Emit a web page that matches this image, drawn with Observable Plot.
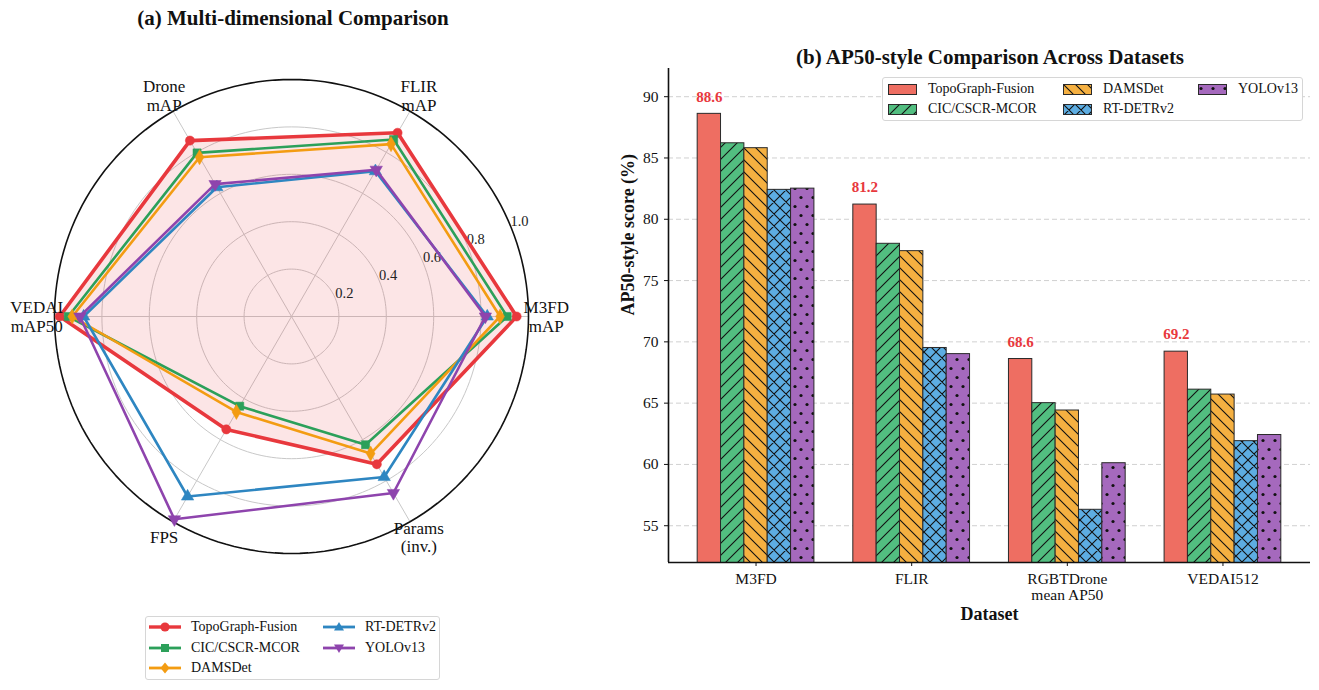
<!DOCTYPE html>
<html>
<head>
<meta charset="utf-8">
<script src="https://cdn.jsdelivr.net/npm/d3@7"></script>
<script src="https://cdn.jsdelivr.net/npm/@observablehq/plot@0.6"></script>
<style>
  body { margin: 0; background: #fff; }
  #page { position: relative; width: 1319px; height: 690px; background: #fff; font-family: "Liberation Serif", "Times New Roman", serif; color: #111; overflow: hidden; }
  .title { position: absolute; font-weight: bold; font-size: 21px; white-space: nowrap; transform: translate(-50%, -50%); }
  .legend { position: absolute; background: #fff; border: 1px solid #d6d6d6; border-radius: 3px; box-sizing: border-box; font-size: 14px; }
  .legend .item { position: absolute; display: flex; align-items: center; white-space: nowrap; }
  .legend svg { display: block; }
  #radar, #bars { position: absolute; }
</style>
</head>
<body>
<svg width="0" height="0" style="position:absolute">
  <defs>
    <pattern id="hatch1" patternUnits="userSpaceOnUse" width="12" height="12">
      <rect width="12" height="12" fill="#52BE80"/>
      <path d="M0,12L12,0M-3,3L3,-3M9,15L15,9" stroke="#111" stroke-width="1.1"/>
    </pattern>
    <pattern id="hatch2" patternUnits="userSpaceOnUse" width="12" height="12">
      <rect width="12" height="12" fill="#F5B041"/>
      <path d="M0,0L12,12M-3,9L3,15M9,-3L15,3" stroke="#111" stroke-width="1.1"/>
    </pattern>
    <pattern id="hatch3" patternUnits="userSpaceOnUse" width="12" height="12">
      <rect width="12" height="12" fill="#5DADE2"/>
      <path d="M0,12L12,0M-3,3L3,-3M9,15L15,9M0,0L12,12M-3,9L3,15M9,-3L15,3" stroke="#111" stroke-width="1.1"/>
    </pattern>
    <pattern id="hatch4" patternUnits="userSpaceOnUse" width="12" height="18">
      <rect width="12" height="18" fill="#A569BD"/>
      <circle cx="3" cy="4.5" r="1.6" fill="#111"/>
      <circle cx="9" cy="13.5" r="1.6" fill="#111"/>
    </pattern>
  </defs>
</svg>
<div id="page">
  <div class="title" style="left:293px; top:18px;">(a) Multi-dimensional Comparison</div>
  <div class="title" style="left:990px; top:57px;">(b) AP50-style Comparison Across Datasets</div>
  <div id="radar" style="left:0px; top:0px;"></div>
  <div id="bars" style="left:600px; top:40px;"></div>
  <div class="legend" id="legA" style="left:145px; top:616px; width:295px; height:64px;"></div>
  <div class="legend" id="legB" style="left:882px; top:77px; width:421px; height:44px;"></div>
</div>
<script>
// ---------------- data ----------------
const models = ["TopoGraph-Fusion", "CIC/CSCR-MCOR", "DAMSDet", "RT-DETRv2", "YOLOv13"];

// radar (normalized scores)
const radarAxes = ["M3FD\nmAP", "FLIR\nmAP", "Drone\nmAP", "VEDAI\nmAP50", "FPS", "Params\n(inv.)"];
const radarTopo  = [0.950, 0.895, 0.857, 0.978, 0.550, 0.720];
const radarCic   = [0.910, 0.862, 0.797, 0.942, 0.437, 0.625];
const radarDams  = [0.880, 0.840, 0.776, 0.925, 0.465, 0.668];
const radarRtdetr = [0.826, 0.708, 0.630, 0.877, 0.877, 0.782];
const radarYolo  = [0.818, 0.715, 0.645, 0.893, 0.988, 0.860];
const radarTicks = [0.2, 0.4, 0.6, 0.8, 1.0];

// bars (AP50-style %)
const datasets = ["M3FD", "FLIR", "RGBTDrone\nmean AP50", "VEDAI512"];
const apTopo   = [88.6, 81.2, 68.6, 69.2];
const apCic    = [86.2, 78.0, 65.0, 66.1];
const apDams   = [85.8, 77.4, 64.4, 65.7];
const apRtdetr = [82.4, 69.5, 56.3, 61.9];
const apYolo   = [82.5, 69.0, 60.1, 62.4];
const yTicks = [55, 60, 65, 70, 75, 80, 85, 90];

// ---------------- styles ----------------
const lineColors = ["#e8383d", "#2ca05a", "#f39c12", "#2e86c1", "#8e44ad"];
const barFills = ["#EE6E62", "url(#hatch1)", "url(#hatch2)", "url(#hatch3)", "url(#hatch4)"];
const symbols = ["circle", "square", "diamond", "triangle", "triangle"];
const rotations = [0, 0, 0, 0, 180];
const font = '"Liberation Serif", "Times New Roman", serif';

// ---------------- radar ----------------
const radarSeries = [radarTopo, radarCic, radarDams, radarRtdetr, radarYolo];
const W = 600, H = 600, R = 237, cx = 291, cy = 316;
const angle = i => (i * 2 * Math.PI) / radarAxes.length;
const pts = radarSeries.map((vals, s) =>
  vals.map((v, i) => ({s, i, v, x: v * Math.cos(angle(i)), y: v * Math.sin(angle(i))}))
);
const circleData = radarTicks.flatMap(t =>
  d3.range(0, 361, 2).map(a => ({t, x: t * Math.cos(a * Math.PI / 180), y: t * Math.sin(a * Math.PI / 180)}))
);
const spokes = radarAxes.map((name, i) => ({x: Math.cos(angle(i)), y: Math.sin(angle(i))}));
const labelR = 1.075;
const rlabAng = 22.5 * Math.PI / 180;

const radarMarks = [
  Plot.line(circleData.filter(d => d.t < 1), {x: "x", y: "y", z: "t", stroke: "#c8c8c8", strokeWidth: 1}),
  Plot.link(spokes, {x1: 0, y1: 0, x2: "x", y2: "y", stroke: "#c8c8c8", strokeWidth: 1}),
  Plot.line(pts[0], {x: "x", y: "y", curve: "linear-closed", fill: lineColors[0], fillOpacity: 0.13, stroke: "none"}),
  Plot.text(radarTicks, {x: t => t * Math.cos(rlabAng), y: t => t * Math.sin(rlabAng), text: t => t.toFixed(1),
    textAnchor: "start", lineAnchor: "bottom", dx: 0, fontSize: 14.5, fill: "#222"}),
  Plot.line(circleData.filter(d => d.t === 1), {x: "x", y: "y", stroke: "#111", strokeWidth: 1.6}),
];
pts.forEach((p, s) => {
  radarMarks.push(Plot.line(p, {x: "x", y: "y", curve: "linear-closed", stroke: lineColors[s], strokeWidth: s === 0 ? 3.6 : 2.6}));
  radarMarks.push(Plot.dot(p, {x: "x", y: "y", symbol: symbols[s], rotate: rotations[s], r: 4.6, fill: lineColors[s], stroke: lineColors[s], strokeWidth: 0.5}));
});
radarMarks.push(Plot.text(radarAxes, {
  x: (d, i) => labelR * Math.cos(angle(i)), y: (d, i) => labelR * Math.sin(angle(i)),
  text: d => d, textAnchor: "middle", lineAnchor: "middle", fontSize: 17, fill: "#111", lineHeight: 1.1
}));

const radar = Plot.plot({
  width: W, height: H, margin: 0,
  x: {domain: [-cx / R, (W - cx) / R], axis: null},
  y: {domain: [-(H - cy) / R, cy / R], axis: null},
  style: {fontFamily: font, background: "transparent", overflow: "visible"},
  marks: radarMarks
});
document.getElementById("radar").appendChild(radar);

// ---------------- bars ----------------
const barSeries = [apTopo, apCic, apDams, apRtdetr, apYolo];
const barW = 0.15;
const rows = barSeries.flatMap((vals, j) => vals.map((v, i) => ({
  j, i, v, x1: i + (j - 2) * barW - barW / 2, x2: i + (j - 2) * barW + barW / 2
})));
const xDom = [-0.5625, 3.5625];
const yDom = [52, 92.3];

const barMarks = [
  Plot.gridY(yTicks, {stroke: "#c4c4c4", strokeDasharray: "5,3", strokeOpacity: 0.8, strokeWidth: 1}),
];
barSeries.forEach((vals, j) => {
  barMarks.push(Plot.rectY(rows.filter(r => r.j === j), {
    x1: "x1", x2: "x2", y1: 0, y2: "v", fill: barFills[j], stroke: "#2a2a2a", strokeWidth: 1, clip: true
  }));
});
barMarks.push(
  Plot.text(rows.filter(r => r.j === 0), {x: r => (r.x1 + r.x2) / 2, y: r => r.v + 1, text: r => r.v.toFixed(1),
    lineAnchor: "bottom", fill: "#e8383d", fontWeight: "bold", fontSize: 15}),
  Plot.ruleY([yDom[0]], {stroke: "#111", strokeWidth: 1.6}),
  Plot.ruleX([xDom[0]], {stroke: "#111", strokeWidth: 1.6}),
  Plot.axisY({ticks: yTicks, tickSize: 4, tickPadding: 6, fontSize: 15.5, label: null, stroke: "#111"}),
  Plot.axisX({ticks: [0, 1, 2, 3], tickFormat: i => datasets[i], tickSize: 4, tickPadding: 6, fontSize: 15.5, label: null, stroke: "#111", lineHeight: 1.02}),
  Plot.text(["AP50-style score (%)"], {frameAnchor: "left", dx: -40, rotate: -90, fontWeight: "bold", fontSize: 18, fill: "#111"}),
  Plot.text(["Dataset"], {frameAnchor: "bottom", dy: 57, fontWeight: "bold", fontSize: 18, fill: "#111"})
);

const bars = Plot.plot({
  width: 719, height: 600,
  marginLeft: 68, marginRight: 9, marginTop: 28, marginBottom: 78,
  x: {domain: xDom},
  y: {domain: yDom},
  style: {fontFamily: font, background: "transparent", color: "#111", overflow: "visible"},
  marks: barMarks
});
document.getElementById("bars").appendChild(bars);

// ---------------- legends ----------------
function markerSvg(s) {
  const c = lineColors[s];
  const w = 32, h = 14, m = 16, y = 7, r = 4.6;
  let shape;
  if (s === 0) shape = `<circle cx="${m}" cy="${y}" r="${r}" fill="${c}"/>`;
  else if (s === 1) shape = `<rect x="${m - 4}" y="${y - 4}" width="8" height="8" fill="${c}"/>`;
  else if (s === 2) shape = `<path d="M${m},${y - 5.5}L${m + 4.5},${y}L${m},${y + 5.5}L${m - 4.5},${y}Z" fill="${c}"/>`;
  else if (s === 3) shape = `<path d="M${m},${y - 5}L${m + 5},${y + 3.5}L${m - 5},${y + 3.5}Z" fill="${c}"/>`;
  else shape = `<path d="M${m},${y + 5}L${m + 5},${y - 3.5}L${m - 5},${y - 3.5}Z" fill="${c}"/>`;
  return `<svg width="${w}" height="${h}"><line x1="0" x2="${w}" y1="${y}" y2="${y}" stroke="${c}" stroke-width="${s === 0 ? 3.4 : 2.8}"/>${shape}</svg>`;
}
const legA = document.getElementById("legA");
const legAPos = [[3, 10], [3, 31], [3, 51], [177, 10], [177, 31]];
models.forEach((m, s) => {
  const d = document.createElement("div");
  d.className = "item";
  d.style.left = legAPos[s][0] + "px";
  d.style.top = (legAPos[s][1] - 8) + "px";
  d.innerHTML = markerSvg(s) + `<span style="margin-left:10px">${m}</span>`;
  legA.appendChild(d);
});
const legB = document.getElementById("legB");
const legBPos = [[5, 11], [5, 31], [180, 11], [180, 31], [315, 11]];
models.forEach((m, j) => {
  const d = document.createElement("div");
  d.className = "item";
  d.style.left = legBPos[j][0] + "px";
  d.style.top = (legBPos[j][1] - 8) + "px";
  d.innerHTML = `<svg width="29" height="11"><rect x="0.5" y="0.5" width="28" height="10" fill="${barFills[j]}" stroke="#2a2a2a" stroke-width="1"/></svg><span style="margin-left:11px">${m}</span>`;
  legB.appendChild(d);
});
</script>
</body>
</html>
